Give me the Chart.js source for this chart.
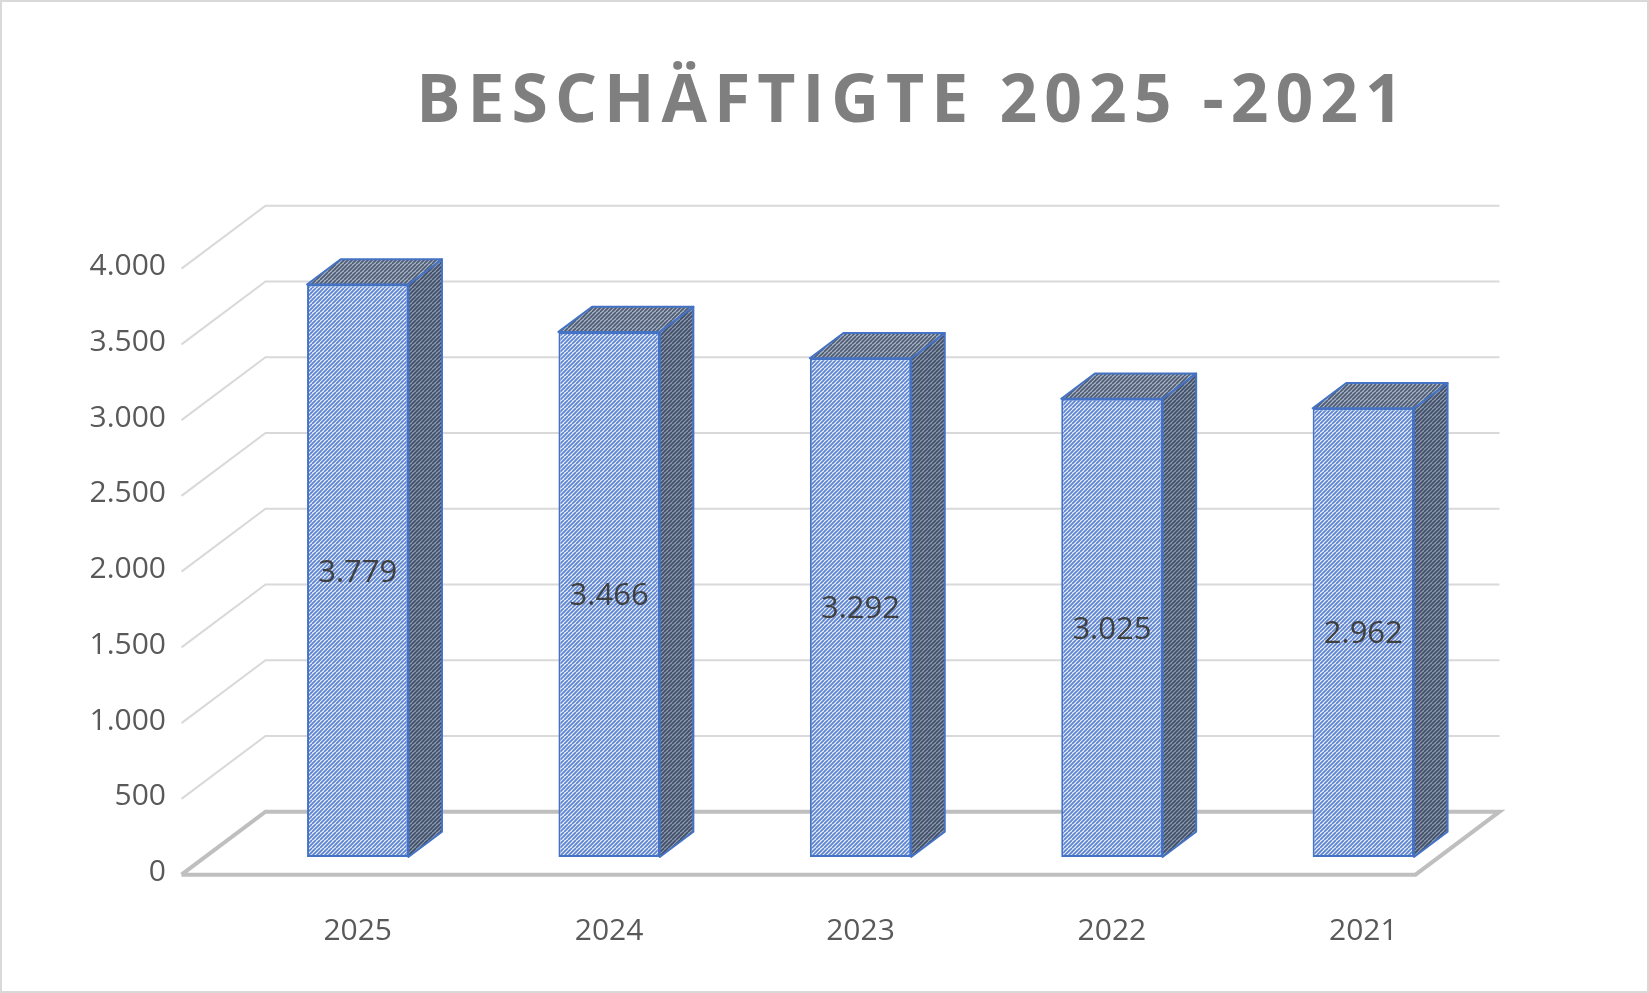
<!DOCTYPE html>
<html><head><meta charset="utf-8">
<script src="https://cdn.jsdelivr.net/npm/chart.js@4"></script>
<style>html,body{margin:0;padding:0;background:#fff}#c{display:block}</style>
</head><body>
<canvas id="c" width="1649" height="993"></canvas>
<script>
const categories = ['2025','2024','2023','2022','2021'];
const values = [3779,3466,3292,3025,2962];
const yTicks = [0,500,1000,1500,2000,2500,3000,3500,4000];
const valueLabels = ['3.779','3.466','3.292','3.025','2.962'];
const tickLabels = ['0','500','1.000','1.500','2.000','2.500','3.000','3.500','4.000'];
const titleText = 'BESCHÄFTIGTE 2025 -2021';

function makePattern(bg, fg){
  const p=document.createElement('canvas');p.width=8;p.height=8;
  const g=p.getContext('2d');g.fillStyle=bg;g.fillRect(0,0,8,8);
  g.strokeStyle=fg;g.lineWidth=1.6;
  g.beginPath();
  for(let k=-8;k<=16;k+=4){g.moveTo(k,8);g.lineTo(k+8,0);}
  g.stroke();
  return document.getElementById('c').getContext('2d').createPattern(p,'repeat');
}
const frontPat = makePattern('#e4ecfa','#5b82cf');
const sidePat = makePattern('#8d9ab0','#3f4d66');
const topPat = makePattern('#a9b3c4','#4c5a72');

const D = {x:84, y:-63};     // full floor depth
const tBar = 0.28, tDepth = 0.40; // bar front depth, bar depth

const plugin3d = {
  id:'threeD',
  beforeDatasetsDraw(chart){
    const ctx=chart.ctx, ys=chart.scales.y, xs=chart.scales.x;
    const ca=chart.chartArea;
    const fx0 = -tBar*D.x, fy0 = -tBar*D.y; // front plane offset from bar plane
    const left = ca.left - 27 + fx0, right = ca.right - 50 + fx0;
    ctx.save();
    // border
    ctx.strokeStyle='#d9d9d9';ctx.lineWidth=2;ctx.strokeRect(1,1,1647,991);
    // title
    ctx.fillStyle='#7f7f7f';ctx.font='bold 66px "Open Sans"';ctx.textAlign='center';ctx.textBaseline='middle';
    ctx.letterSpacing='7px';
    ctx.fillText(titleText,913,103);
    ctx.letterSpacing='0px';
    // grid
    yTicks.forEach((v,i)=>{
      const yf = ys.getPixelForValue(v)+fy0;
      const yb = yf + D.y;
      const floor = v===0;
      ctx.strokeStyle = floor?'#bfbfbf':'#d9d9d9';
      ctx.lineWidth = floor?4:2;
      ctx.beginPath();
      ctx.moveTo(left,yf);ctx.lineTo(left+D.x,yb);ctx.lineTo(right+D.x,yb);
      if(floor){ctx.lineTo(right,yf);ctx.lineTo(left,yf);}
      ctx.stroke();
      ctx.fillStyle='#595959';ctx.font='30px "Open Sans"';ctx.textAlign='right';ctx.textBaseline='middle';
      ctx.fillText(tickLabels[i],166,yf-2);
    });
    // x labels
    ctx.fillStyle='#595959';ctx.font='30px "Open Sans"';ctx.textAlign='center';
    categories.forEach((c,i)=>ctx.fillText(c,xs.getPixelForValue(i),931));
    ctx.restore();
  },
  afterDatasetsDraw(chart){
    const ctx=chart.ctx, meta=chart.getDatasetMeta(0);
    const dx=tDepth*D.x, dy=tDepth*D.y;
    ctx.save();
    ctx.strokeStyle='#4472c4';ctx.lineWidth=2;ctx.lineJoin='round';
    meta.data.forEach((b,i)=>{
      const l=b.x-b.width/2, r=b.x+b.width/2, t=b.y, btm=b.base;
      ctx.beginPath();ctx.moveTo(r,t);ctx.lineTo(r+dx,t+dy);ctx.lineTo(r+dx,btm+dy);ctx.lineTo(r,btm);ctx.closePath();
      ctx.fillStyle=sidePat;ctx.fill();ctx.stroke();
      ctx.beginPath();ctx.moveTo(l,t);ctx.lineTo(l+dx,t+dy);ctx.lineTo(r+dx,t+dy);ctx.lineTo(r,t);ctx.closePath();
      ctx.fillStyle=topPat;ctx.fill();ctx.stroke();
      ctx.fillStyle='#404040';ctx.font='31px "Open Sans"';ctx.textAlign='center';ctx.textBaseline='middle';
      ctx.fillText(valueLabels[i],b.x,(t+btm)/2+2);
    });
    ctx.restore();
  }
};

new Chart(document.getElementById('c'),{
  type:'bar',
  data:{labels:categories,datasets:[{data:values,backgroundColor:frontPat,borderColor:'#4472c4',borderWidth:2,borderSkipped:false,categoryPercentage:1,barPercentage:0.403}]},
  options:{
    responsive:false,animation:false,devicePixelRatio:1,
    layout:{padding:{left:232,right:160,top:251,bottom:136}},
    plugins:{legend:{display:false},tooltip:{enabled:false},title:{display:false}},
    scales:{x:{display:false},y:{display:false,min:0,max:4000}}
  },
  plugins:[plugin3d]
});
</script>
</body></html>
